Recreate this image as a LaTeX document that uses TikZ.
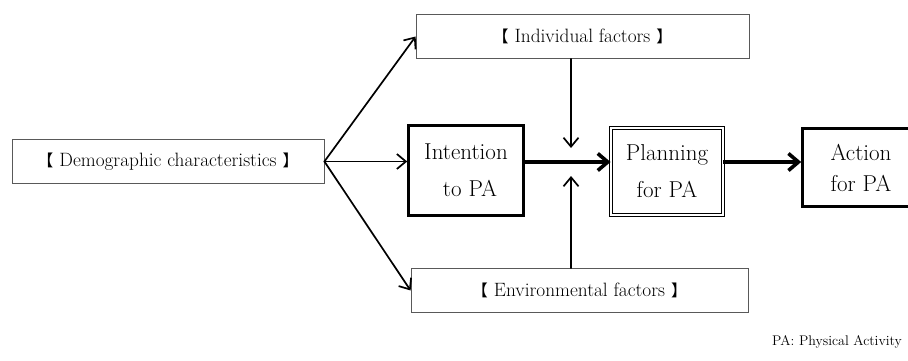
\documentclass[tikz,border=0pt]{standalone}
\usepackage{fontspec}
\newfontfamily\cjk{Noto Sans CJK JP}
\usetikzlibrary{positioning}
\usetikzlibrary{arrows.meta}

\newcommand{\brk}[1]{{\cjk\fontsize{16}{20}\selectfont #1}}

\begin{document}
\begin{tikzpicture}[x=1pt,y=-1pt,
  factor/.style={draw=black!65,line width=0.8pt,minimum height=44pt,inner sep=0pt,
    font=\fontsize{19.3}{23}\selectfont},
  stage/.style={draw,line width=2.6pt,align=center,inner sep=0pt,
    font=\fontsize{23}{37}\selectfont},
  thinarrow/.style={line width=1.7pt,line cap=round,-{Straight Barb[length=9pt,width=15pt]}},
  thickarrow/.style={line width=3.6pt,-{Straight Barb[length=10pt,width=17pt]}}]

\useasboundingbox (0,0) rectangle (908,361);

% factor boxes
\node[factor,minimum width=312pt] (demo) at (168,161.5)
  {\brk{【}\hspace{6pt}Demographic characteristics\hspace{6pt}\brk{】}};
\node[factor,minimum width=333pt] (indiv) at (582.5,36.5)
  {\brk{【}\hspace{6pt}Individual factors\hspace{6pt}\brk{】}};
\node[factor,minimum width=337pt] (envir) at (579.5,290.5)
  {\brk{【}\hspace{6pt}Environmental factors\hspace{6pt}\brk{】}};

% stages
\node[stage,minimum width=115pt,minimum height=90pt] (intent) at (466,170.5)
  {Intention\\ \hspace{8pt}to PA};
\node[stage,line width=0.9pt,double,double distance=2.2pt,
  minimum width=112pt,minimum height=87pt] (plan) at (667,171.5)
  {Planning\\for PA};
\node[stage,minimum width=117pt,minimum height=78pt,
  font=\fontsize{23}{31}\selectfont] (action) at (861,167.5)
  {Action\\for PA};

\coordinate (join) at (571,162);
\coordinate (upin) at (571,148);
\coordinate (lowin) at (571,176);

% arrows
\draw [thinarrow] (demo.east) -- (indiv.west);
\draw [thinarrow] (demo.east) -- (demo.east -| intent.west);
\draw [thinarrow] (demo.east) -- (envir.west);

\draw [thinarrow] (indiv.south -| join) -- (upin);
\draw [thinarrow] (envir.north -| join) -- (lowin);

\draw [thickarrow] (intent.east |- join) -- (plan.west |- join);
\draw [thickarrow] (plan.east |- join) -- (action.west |- join);

% note
\node[font=\fontsize{14}{16}\selectfont] (note) at (837,342) {PA: Physical Activity};
\end{tikzpicture}
\end{document}
